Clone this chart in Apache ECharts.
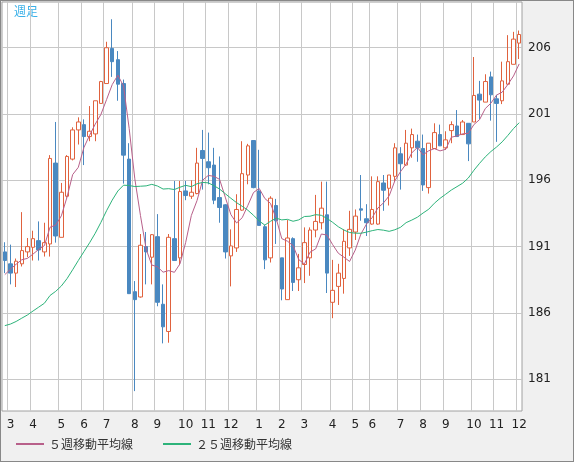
<!DOCTYPE html>
<html><head><meta charset="utf-8">
<script src="https://cdn.jsdelivr.net/npm/echarts@6/dist/echarts.min.js"></script>
<style>html,body{margin:0;padding:0;background:#f0f0f0}#c{width:574px;height:462px;box-sizing:border-box;border:1px solid #888}</style>
</head><body><div id="c"></div>
<script>
// [open, close, low, high]
const opens  = [190.6,189.7,189.0,189.7,190.6,190.95,191.45,190.6,191.2,197.3,191.7,194.8,197.6,199.8,200.2,199.3,199.5,201.8,203.3,205.95,205.1,203.3,197.6,187.6,187.2,191.0,190.2,191.75,186.65,184.6,191.6,190.15,195.2,194.8,195.0,198.25,197.4,197.15,194.7,194.15,190.3,190.9,193.75,196.4,199.0,195.2,192.5,190.15,194.1,190.15,187.0,191.6,188.5,189.65,190.15,192.25,192.8,193.4,186.8,188.0,188.6,190.9,192.1,193.85,193.1,192.7,192.7,195.8,195.4,196.3,198.0,197.15,198.45,198.95,198.4,195.45,198.4,199.45,198.45,199.75,200.1,199.45,200.3,200.4,202.5,201.9,203.8,202.15,202.0,203.25,204.75,206.35];
const closes = [189.95,189.0,189.9,190.7,191.0,191.6,190.75,191.3,197.65,191.8,195.1,197.8,199.8,200.4,199.3,199.7,202.0,203.45,206.0,204.95,203.25,197.9,187.45,187.0,191.1,190.6,191.9,186.8,184.95,191.7,189.95,195.15,194.85,195.1,197.3,197.65,196.95,194.5,193.95,190.6,191.05,193.8,196.5,198.6,195.45,192.6,190.0,194.65,192.95,187.8,191.65,188.3,189.4,191.3,192.25,192.9,193.9,189.0,187.7,189.0,191.4,192.3,193.3,193.75,192.8,193.8,195.9,195.25,196.4,198.45,197.25,198.8,199.45,198.45,195.65,198.8,199.6,198.6,199.05,200.2,199.3,200.4,198.75,202.4,202.05,203.45,202.45,201.8,203.5,204.95,206.65,207.0];
const lows   = [189.0,188.15,187.95,189.5,190.2,189.95,189.95,190.25,190.25,191.3,191.7,194.7,197.5,198.7,197.15,198.95,198.95,201.8,203.3,203.8,202.0,195.75,187.45,180.1,187.15,188.15,188.15,186.5,183.7,183.75,189.95,189.6,194.5,194.6,194.95,195.3,195.7,194.2,192.8,190.1,188.0,190.6,193.7,195.7,195.4,192.6,189.3,189.8,191.2,186.95,187.0,187.65,187.65,188.25,188.8,191.7,192.3,187.5,185.6,186.6,187.45,190.3,191.5,192.95,191.8,192.65,192.65,193.7,194.1,195.9,195.3,197.1,197.7,197.4,195.2,195.0,198.4,198.6,198.3,198.8,199.3,199.45,197.45,200.4,200.6,201.9,200.5,198.9,201.75,203.2,204.75,205.15];
const highs  = [191.33,191.15,190.1,193.6,191.65,192.2,192.9,192.8,197.9,200.4,195.8,197.9,200.0,200.75,200.6,201.6,202.0,203.5,206.45,208.15,205.75,203.6,198.8,188.4,191.95,192.1,191.95,193.45,188.15,191.95,195.95,195.95,195.95,196.0,198.45,199.8,199.6,198.45,197.8,194.2,192.3,194.95,198.95,198.75,199.0,198.3,192.65,194.8,194.6,190.15,193.0,191.7,190.45,192.45,192.45,194.9,195.9,195.9,190.0,189.7,192.3,193.7,193.8,196.4,194.2,196.3,196.3,196.4,196.4,198.8,198.5,199.8,199.9,199.45,199.45,198.8,200.3,200.2,199.7,200.45,201.3,200.55,200.3,205.3,203.5,204.0,204.2,202.45,204.95,206.95,207.2,207.3];
// estimated closes of the 24 weeks before the first visible candle (for the moving averages)
const priorCloses = [186,185,184.5,185,184,183.5,184,183,184,185,184,183,183,182.5,183,184,183,184,185,186,187,188,189,190.5];
// month label at the first week of each month
const monthStarts = {1:'3',5:'4',10:'5',14:'6',18:'7',23:'8',27:'9',32:'10',36:'11',40:'12',45:'1',49:'2',53:'3',58:'4',62:'5',65:'6',70:'7',74:'8',78:'9',83:'10',87:'11',91:'12'};
const yTicks = [181,186,191,196,201,206];

const cats = closes.map((_, i) => String(i));
const all = priorCloses.concat(closes);
function ma(n){return closes.map((_, i)=>{const j=i+priorCloses.length;let s=0;for(let k=j-n+1;k<=j;k++)s+=all[k];return +(s/n).toFixed(3);});}
const candle = closes.map((c,i)=>[opens[i],c,lows[i],highs[i]]);
const chart = echarts.init(document.getElementById('c'));
chart.setOption({
  animation:false,
  backgroundColor:'#f0f0f0',
  grid:{left:1,right:51,top:1,bottom:50,show:true,backgroundColor:'#fff',borderColor:'#a0a0a0',borderWidth:1},
  graphic:[{type:'text',left:13,top:4,style:{text:'週足',fill:'#3ab0e8',font:'12px "Noto Sans CJK JP"'}}],
  legend:{bottom:6,left:10,itemWidth:28,itemHeight:2,itemGap:30,icon:'rect',
    textStyle:{fontFamily:'"Noto Sans CJK JP"',fontSize:12,color:'#333'},
    data:['５週移動平均線','２５週移動平均線']},
  xAxis:{type:'category',data:cats,boundaryGap:true,
    axisLine:{show:false},axisTick:{show:false},
    splitLine:{show:true,interval:(i)=>monthStarts[i]!==undefined,lineStyle:{color:'#c8c8c8'}},
    axisLabel:{interval:(i)=>monthStarts[i]!==undefined,formatter:(v,i)=>monthStarts[i]||'',color:'#222',fontSize:12,fontFamily:'"DejaVu Sans"',margin:8}},
  yAxis:{type:'value',position:'right',min:178.6,max:209.45,scale:true,
    axisLine:{show:false},
    axisTick:{show:false,customValues:yTicks},
    axisLabel:{customValues:yTicks,color:'#222',fontSize:12,fontFamily:'"DejaVu Sans"',margin:6},
    splitLine:{show:true,lineStyle:{color:'#c8c8c8'}}},
  series:[
    {type:'candlestick',data:candle,barWidth:4,
      itemStyle:{color:'#ffffff',color0:'#4a88c0',borderColor:'#e0623e',borderColor0:'#4a88c0',borderWidth:1}},
    {name:'５週移動平均線',type:'line',data:ma(5),symbol:'none',smooth:false,lineStyle:{color:'#b8608a',width:1},itemStyle:{color:'#b8608a'}},
    {name:'２５週移動平均線',type:'line',data:ma(25),symbol:'none',lineStyle:{color:'#2db37a',width:1},itemStyle:{color:'#2db37a'}}
  ]
});
</script></body></html>
